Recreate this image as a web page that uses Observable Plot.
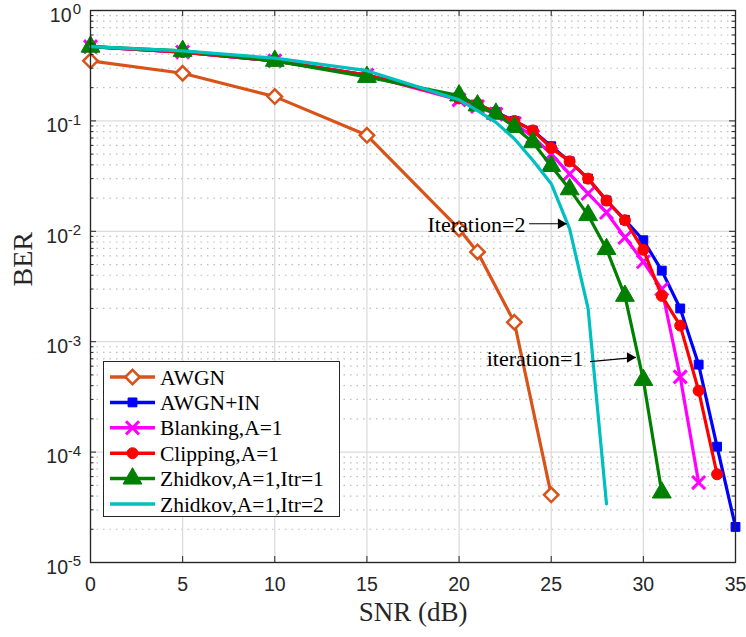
<!DOCTYPE html>
<html>
<head>
<meta charset="utf-8">
<script src="https://cdn.jsdelivr.net/npm/d3@7"></script>
<script src="https://cdn.jsdelivr.net/npm/@observablehq/plot@0.6"></script>
<style>
  body { margin: 0; background: white; }
  #wrap { position: relative; width: 746px; height: 637px; }
  #legend { position: absolute; left: 103px; top: 361px; }
</style>
</head>
<body>
<div id="wrap"><div id="chart"></div><div id="legend"></div></div>
<script>
// ---- Data ----
const xTicks = [0, 5, 10, 15, 20, 25, 30, 35];
const yTicks = [1, 0.1, 0.01, 0.001, 1e-4, 1e-5];
const yExps = ["0", "-1", "-2", "-3", "-4", "-5"];

const awgnX = [0, 5, 10, 15, 20, 21, 23, 25];
const awgnY = [0.35, 0.27, 0.166, 0.074, 0.0105, 0.0065, 0.0015, 4.1e-5];

const inX = [0, 5, 10, 15, 20, 21, 22, 23, 24, 25, 26, 27, 28, 29, 30, 31, 32, 33, 34, 35];
const inY = [0.47, 0.42, 0.35, 0.26, 0.16, 0.14, 0.12, 0.10, 0.082, 0.059, 0.043, 0.030, 0.019, 0.0127, 0.0083, 0.0044, 0.0020, 6.2e-4, 1.12e-4, 2.1e-5];

const blankX = [0, 5, 10, 15, 20, 21, 22, 23, 24, 25, 26, 27, 28, 29, 30, 31, 32, 33];
const blankY = [0.47, 0.42, 0.35, 0.26, 0.155, 0.135, 0.115, 0.095, 0.072, 0.050, 0.033, 0.022, 0.0148, 0.0088, 0.0053, 0.0030, 4.8e-4, 5.3e-5];

const clipX = [0, 5, 10, 15, 20, 21, 22, 23, 24, 25, 26, 27, 28, 29, 30, 31, 32, 33, 34];
const clipY = [0.47, 0.42, 0.35, 0.26, 0.16, 0.143, 0.118, 0.10, 0.082, 0.057, 0.043, 0.030, 0.019, 0.0126, 0.0068, 0.0026, 0.0014, 3.6e-4, 6.3e-5];

const zh1X = [0, 5, 10, 15, 20, 21, 22, 23, 24, 25, 26, 27, 28, 29, 30, 31];
const zh1Y = [0.47, 0.43, 0.35, 0.25, 0.17, 0.138, 0.116, 0.088, 0.064, 0.039, 0.024, 0.014, 0.0069, 0.0026, 4.5e-4, 4.3e-5];

const zh2X = [0, 5, 10, 15, 20, 21, 22, 23, 24, 25, 26, 27, 28];
const zh2Y = [0.47, 0.43, 0.37, 0.285, 0.155, 0.124, 0.097, 0.069, 0.044, 0.027, 0.0105, 0.0020, 3.4e-5];

const seriesNames = ["AWGN", "AWGN+IN", "Blanking,A=1", "Clipping,A=1", "Zhidkov,A=1,Itr=1", "Zhidkov,A=1,Itr=2"];

const annText = ["Iteration=2", "iteration=1"];
const annX = [23.6, 26.75];
const annY = [0.0113, 7.0e-4];
const arrX1 = [23.8, 27.1];
const arrY1 = [0.0117, 6.6e-4];
const arrX2 = [25.85, 29.6];
const arrY2 = [0.0117, 7.2e-4];

// ---- Styles ----
const SERIF = "'Liberation Serif', 'Times New Roman', 'DejaVu Serif', serif";
const SANS = "'Liberation Sans', Arial, Helvetica, sans-serif";
const styles = [
  {color: "#D95319", symbol: "diamond2", r: 6.5, fill: "white", sw: 2.5, marker: true},
  {color: "#0000FF", symbol: "square", r: 5, fill: "#0000FF", sw: 1, marker: true},
  {color: "#FF00FF", symbol: "times", r: 6, fill: "none", sw: 3, marker: true},
  {color: "#FF0000", symbol: "circle", r: 5.5, fill: "#FF0000", sw: 1, marker: true},
  {color: "#008000", symbol: "triangle", r: 7, fill: "#008000", sw: 1, marker: true},
  {color: "#00BFBF", symbol: null, marker: false}
];
const allX = [awgnX, inX, blankX, clipX, zh1X, zh2X];
const allY = [awgnY, inY, blankY, clipY, zh1Y, zh2Y];
const series = allX.map((xs, k) => xs.map((x, i) => ({x, y: allY[k][i]})));

const W = 746, H = 637, mL = 90, mR = 11, mT = 10, mB = 75;
const pw = W - mL - mR, ph = H - mT - mB;

const minorY = [];
yTicks.slice(1).forEach(d => { for (let k = 2; k <= 9; k++) minorY.push(+(k * d).toPrecision(3)); });

const dataMarks = [];
series.forEach((data, k) => {
  const s = styles[k];
  dataMarks.push(Plot.line(data, {x: "x", y: "y", stroke: s.color, strokeWidth: 3.2}));
  if (s.marker) {
    dataMarks.push(Plot.dot(data, {x: "x", y: "y", symbol: s.symbol, r: s.r,
      fill: s.fill, stroke: s.color, strokeWidth: s.sw}));
  }
});

const ann = annText.map((t, i) => ({t, x: annX[i], y: annY[i], x1: arrX1[i], y1: arrY1[i], x2: arrX2[i], y2: arrY2[i]}));

const chart = Plot.plot({
  width: W, height: H,
  marginLeft: mL, marginRight: mR, marginTop: mT, marginBottom: mB,
  style: {fontFamily: SANS, fontSize: "19.5px", background: "white", color: "#262626"},
  x: {domain: [0, 35], ticks: xTicks, label: null},
  y: {type: "log", domain: [1e-5, 1], axis: null},
  marks: [
    Plot.ruleY(minorY, {y: d => d, stroke: "#bdbdbd", strokeWidth: 1.2, strokeDasharray: "1.5,5"}),
    Plot.gridX({ticks: xTicks, stroke: "#dcdcdc", strokeOpacity: 1, strokeWidth: 1.3}),
    Plot.gridY({ticks: yTicks, stroke: "#dcdcdc", strokeOpacity: 1, strokeWidth: 1.3}),
    Plot.axisX({ticks: xTicks, tickSize: 0, tickPadding: 15, fontSize: 19.5, label: null, tickFormat: d => String(d)}),
    // y tick labels (10 with superscript exponents)
    Plot.text(yTicks.slice(0, 1), {y: d => d, frameAnchor: "left", textAnchor: "end", dx: -19, dy: 5, text: () => "10", fontSize: 19.5, fontFamily: SANS}),
    Plot.text(yTicks.slice(1), {y: d => d, frameAnchor: "left", textAnchor: "end", dx: -22.5, dy: 5, text: () => "10", fontSize: 19.5, fontFamily: SANS}),
    Plot.text(yTicks, {y: d => d, frameAnchor: "left", textAnchor: "end", dx: -9.5, dy: -1, text: (d, i) => yExps[i], fontSize: 15, fontFamily: SANS}),
    ...dataMarks,
    // annotations
    Plot.text(ann, {x: "x", y: "y", text: "t", textAnchor: "end", fontFamily: SERIF, fontSize: 22, fill: "black"}),
    Plot.link(ann, {x1: "x1", y1: "y1", x2: "x2", y2: "y2", stroke: "black", strokeWidth: 1.2}),
    Plot.dot(ann, {x: "x2", y: "y2", symbol: "triangle2", r: 5, rotate: 90, dx: -6, fill: "black"}),
    // inward ticks
    Plot.ruleX(xTicks, {x: d => d, insetTop: ph - 6, stroke: "#262626"}),
    Plot.ruleX(xTicks, {x: d => d, insetBottom: ph - 6, stroke: "#262626"}),
    Plot.ruleY(yTicks, {y: d => d, insetRight: pw - 6, stroke: "#262626"}),
    Plot.ruleY(yTicks, {y: d => d, insetLeft: pw - 6, stroke: "#262626"}),
    Plot.ruleY(minorY, {y: d => d, insetRight: pw - 3.5, stroke: "#262626"}),
    Plot.ruleY(minorY, {y: d => d, insetLeft: pw - 3.5, stroke: "#262626"}),
    Plot.frame({stroke: "#262626", strokeWidth: 1.3}),
    // axis titles
    Plot.text(["SNR (dB)"], {frameAnchor: "bottom", dy: 58, text: d => d, fontFamily: SERIF, fontSize: 27, fill: "#262626"}),
    Plot.text(["BER"], {frameAnchor: "left", dx: -67, rotate: -90, text: d => d, fontFamily: SERIF, fontSize: 28, fill: "#262626"})
  ]
});
document.getElementById("chart").appendChild(chart);

// ---- Legend (inside the plot area, lower left) ----
const LW = 237, LH = 156, rowH = 25.4, row0 = 16;
const lsvg = d3.select("#legend").append("svg").attr("width", LW).attr("height", LH)
  .attr("font-family", SERIF);
lsvg.append("rect").attr("x", 0.5).attr("y", 0.5).attr("width", LW - 1).attr("height", LH - 1)
  .attr("fill", "white").attr("stroke", "#262626").attr("stroke-width", 1);
const symMap = {diamond2: d3.symbolDiamond2, square: d3.symbolSquare, times: d3.symbolTimes, circle: d3.symbolCircle, triangle: d3.symbolTriangle};
seriesNames.forEach((name, i) => {
  const s = styles[i];
  const cy = row0 + i * rowH;
  const g = lsvg.append("g");
  g.append("line").attr("x1", 7).attr("x2", 52).attr("y1", cy).attr("y2", cy)
    .attr("stroke", s.color).attr("stroke-width", 3.5);
  if (s.marker) {
    const size = Math.PI * s.r * s.r;
    g.append("path").attr("d", d3.symbol(symMap[s.symbol], size)())
      .attr("transform", `translate(29.5,${cy})`)
      .attr("fill", s.fill).attr("stroke", s.color).attr("stroke-width", s.sw);
  }
  g.append("text").attr("x", 57).attr("y", cy).attr("dy", "0.35em")
    .attr("font-size", 21.5).attr("font-family", SERIF).attr("fill", "black").text(name);
});
</script>
</body>
</html>
